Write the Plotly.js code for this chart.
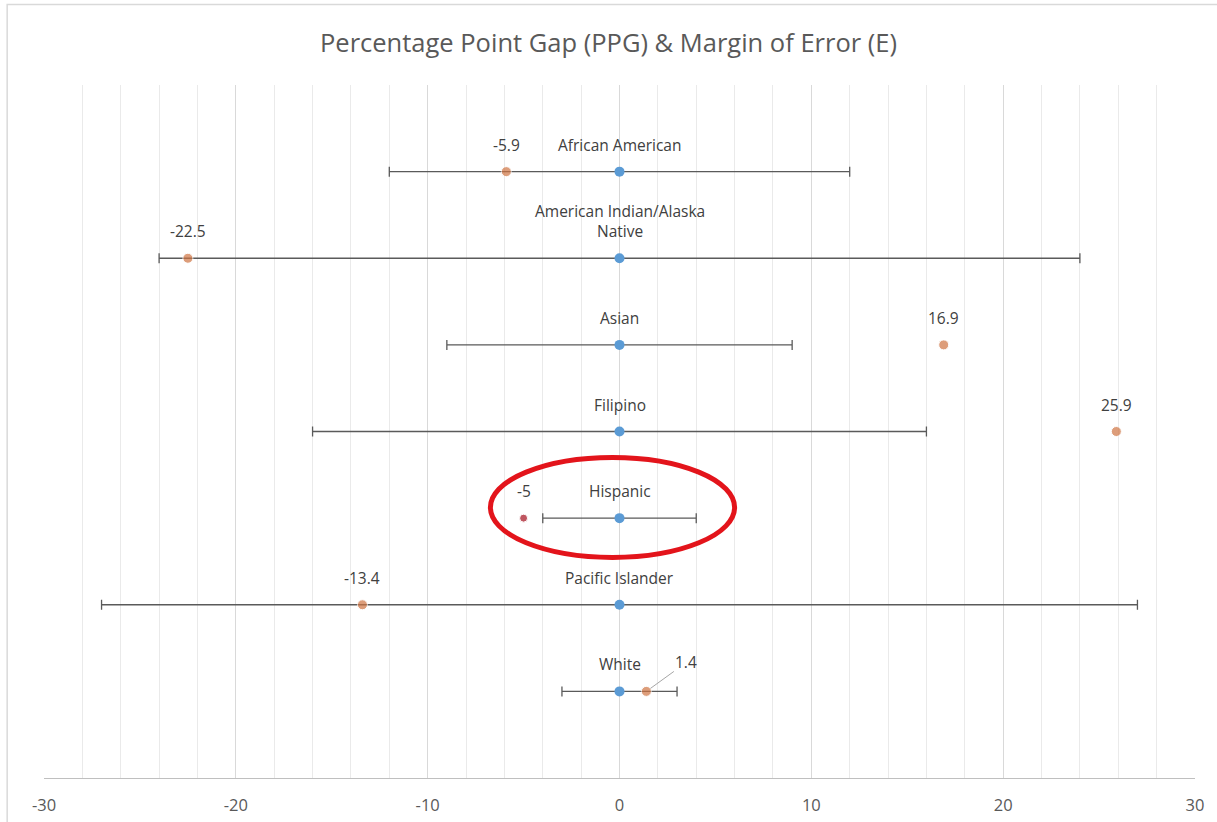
<!DOCTYPE html>
<html>
<head>
<meta charset="utf-8">
<script src="https://cdn.plot.ly/plotly-3.0.1.min.js"></script>
<style>
  html, body { margin: 0; padding: 0; background: #fff; }
  #chart { width: 1217px; height: 822px; }
</style>
</head>
<body>
<div id="chart"></div>
<script>
// ---- data ----
const categories = ["African American", "American Indian/Alaska<br>Native", "Asian", "Filipino", "Hispanic", "Pacific Islander", "White"];
const ppg = [-5.9, -22.5, 16.9, 25.9, -5, -13.4, 1.4];
const marginOfError = [12, 24, 9, 16, 4, 27, 3];
const ppgLabels = ["-5.9", "-22.5", "16.9", "25.9", "-5", "-13.4", "1.4"];
const xTickVals = [-30, -20, -10, 0, 10, 20, 30];

// ---- derived ----
const n = categories.length;
const yRow = categories.map((_, i) => n - i);
const zeros = categories.map(() => 0);
const ppgColors = categories.map(c => c === "Hispanic" ? "#A50F1E" : "#CF7442");
const ppgSizes = categories.map(c => c === "Hispanic" ? 8 : 10);

const FONT = "Open Sans, Noto Sans, sans-serif";
const LABEL_FONT = { family: FONT, size: 15.5, color: "#404040" };

const traces = [
  {
    type: "scatter", mode: "markers",
    x: zeros, y: yRow,
    marker: { color: "#5B9BD5", size: 10 },
    error_x: { type: "data", symmetric: true, array: marginOfError, color: "#5A5A5A", thickness: 1.3, width: 5 },
    hoverinfo: "skip", showlegend: false
  },
  {
    type: "scatter", mode: "markers",
    x: ppg, y: yRow,
    marker: { color: ppgColors, size: ppgSizes },
    hoverinfo: "skip", showlegend: false
  }
];

const annotations = [];
categories.forEach((c, i) => {
  annotations.push({
    x: 0, y: yRow[i], xref: "x", yref: "y", text: c, showarrow: false,
    yanchor: "bottom", yshift: 14,
    font: LABEL_FONT
  });
  if (c === "White") {
    annotations.push({
      x: ppg[i], y: yRow[i], xref: "x", yref: "y", text: ppgLabels[i], showarrow: true,
      ax: 40, ay: -29, arrowhead: 0, arrowwidth: 1, arrowcolor: "#A6A6A6", standoff: 5,
      font: LABEL_FONT
    });
  } else {
    annotations.push({
      x: ppg[i], y: yRow[i], xref: "x", yref: "y", text: ppgLabels[i], showarrow: false,
      yanchor: "bottom", yshift: 14,
      font: LABEL_FONT
    });
  }
});

const highlight = categories.indexOf("Hispanic");
const shapes = [
  // outer chart frame
  { type: "rect", xref: "paper", yref: "paper", x0: -0.032, x1: 1.03, y0: -0.08, y1: 1.116,
    line: { color: "#D9D9D9", width: 1.5 }, fillcolor: "rgba(0,0,0,0)", layer: "below" },
  // red highlight ellipse around Hispanic row
  { type: "circle", xref: "x", yref: "y",
    x0: -6.73, x1: 6.0, y0: yRow[highlight] - 0.454, y1: yRow[highlight] + 0.70,
    line: { color: "#E3141B", width: 5 }, fillcolor: "rgba(0,0,0,0)" }
];

const layout = {
  width: 1217, height: 822,
  paper_bgcolor: "#fff", plot_bgcolor: "#fff",
  margin: { l: 44, r: 22, t: 85, b: 44 },
  font: { family: FONT, color: "#595959" },
  title: {
    text: "Percentage Point Gap (PPG) &amp; Margin of Error (E)",
    x: 0.5, xanchor: "center", y: 0.947, yref: "container", yanchor: "middle",
    font: { family: FONT, size: 25.5, color: "#595959" }
  },
  xaxis: {
    range: [-30, 30], tickvals: xTickVals, ticktext: xTickVals.map(String),
    showgrid: true, gridcolor: "#D9D9D9", gridwidth: 1.2,
    minor: { dtick: 2, showgrid: true, gridcolor: "#EAEAEA", gridwidth: 1 },
    showline: true, linecolor: "#BFBFBF", linewidth: 1.3,
    zeroline: false, ticks: "", ticklabelstandoff: 12,
    tickfont: { family: FONT, size: 16.5, color: "#595959" },
    fixedrange: true
  },
  yaxis: {
    range: [0, 8], visible: false, showgrid: false, zeroline: false, fixedrange: true
  },
  annotations: annotations,
  shapes: shapes,
  showlegend: false
};

Plotly.newPlot("chart", traces, layout, { staticPlot: true, displayModeBar: false });
</script>
</body>
</html>
